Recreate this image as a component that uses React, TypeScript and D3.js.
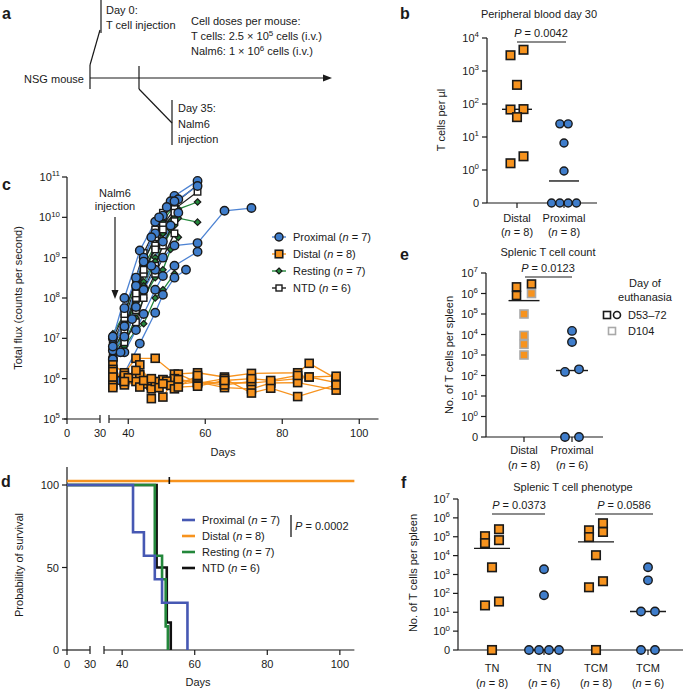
import React from 'react';
import * as d3 from 'd3';

const FONT = '"Liberation Sans", Arial, Helvetica, sans-serif';
const ORANGE = '#F7931E';
const BLUE = '#3F7DCB';
const BLUE_LINE = '#4D83D3';
const GREEN = '#23873B';
const SURV_BLUE = '#4658B3';
const INK = '#1a1a1a';

type Pt = [number, number];

// ---------------- Panel b data ----------------
const bCategories = ['Distal', 'Proximal'];
const bN = [8, 8];
const bDistal = [3000, 4400, 380, 70, 68, 40, 2.6, 1.6];
const bProximal = [25, 25, 6.6, 0.93, 0, 0, 0, 0];
const bPValue = '0.0042';
const bExponents = [0, 1, 2, 3, 4];

// ---------------- Panel c data ----------------
const cProximal: Pt[][] = [
  [[36, 1.0e7], [39, 1.0e8], [43, 1.5e9], [47, 7.8e9], [52, 3.4e10], [58, 8.0e10]],
  [[36, 3.2e6], [39, 5.6e7], [42, 3.2e8], [44, 1.0e9], [47, 4.0e9], [49, 1.1e10], [51, 2.5e10], [53, 2.8e10], [58, 6.0e10]],
  [[36, 5.0e6], [39, 1.1e7], [42, 6.0e7], [44, 1.6e8], [47, 5.0e8], [49, 1.0e9], [52, 2.0e9], [58, 2.3e9], [65, 1.45e10], [72, 1.7e10]],
  [[36, 2.9e6], [39, 4.5e6], [42, 1.6e7], [44, 4.0e7], [47, 1.6e8], [49, 3.5e8], [52, 6.3e8], [58, 1.4e9]],
  [[36, 3.0e6], [38, 9.0e5], [43, 7.4e6], [47, 4.3e7], [49, 1.2e8], [52, 3.2e8], [55, 5.0e8]],
  [[36, 1.1e7], [38, 4.5e6], [41, 3.0e7], [44, 1.6e8], [46, 6.3e8], [49, 2.5e9], [51, 6.3e9], [53, 1.3e10]],
  [[36, 6.3e6], [39, 2.0e7], [42, 2.0e8], [44, 8.0e8], [46, 3.2e9], [48, 1.0e10], [50, 1.8e10], [52, 2.5e10]],
];
const cDistal: Pt[][] = [
  [[36, 2.2e6], [39, 1.4e6], [42, 3.2e6], [47, 3.2e6], [52, 1.3e6], [58, 1.4e6], [65, 1.1e6], [72, 1.35e6], [84, 1.4e6], [87, 2.4e6], [94, 1.0e6]],
  [[36, 1.7e6], [39, 9.5e5], [43, 2.2e6], [46, 7.0e5], [49, 9.3e5], [53, 1.3e6], [58, 8.0e5], [65, 8.0e5], [72, 7.8e5], [84, 1.0e6], [87, 1.1e6], [94, 8.0e5]],
  [[36, 1.25e6], [39, 1.1e6], [43, 1.25e6], [46, 3.2e5], [49, 9.5e5], [52, 7.0e5], [58, 8.3e5], [65, 6.0e5], [72, 5.6e5], [77, 7.8e5], [84, 8.0e5], [94, 5.2e5]],
  [[36, 9.3e5], [39, 8.0e5], [44, 7.4e5], [46, 6.9e5], [49, 3.5e5], [52, 1.0e6], [58, 7.6e5], [65, 1.0e6], [72, 4.4e5], [77, 5.8e5], [84, 3.6e5], [94, 7.0e5]],
  [[36, 7.0e5], [39, 1.2e6], [42, 8.5e5], [46, 5.6e5], [50, 8.7e5], [53, 7.8e5], [58, 1.1e6]],
  [[36, 6.0e5], [40, 1.05e6], [43, 6.2e5], [47, 8.5e5], [51, 6.8e5], [53, 9.5e5], [65, 7.0e5], [72, 8.5e5]],
  [[36, 1.5e6], [39, 7.0e5], [44, 9.0e5], [48, 6.0e5], [52, 5.6e5], [58, 1.2e6]],
  [[36, 1.1e6], [39, 8.5e5], [42, 1.6e6], [46, 1.0e6], [49, 7.5e5], [53, 6.2e5], [58, 6.5e5], [65, 9.0e5], [72, 1.0e6], [77, 9.0e5], [84, 1.2e6], [87, 1.1e6], [94, 1.15e6]],
];
const cResting: Pt[][] = [
  [[36, 8e6], [39, 2.5e7], [42, 1.6e8], [44, 4e8], [47, 1.6e9], [49, 4e9], [51, 8e9], [53, 1.6e10], [58, 2.4e10]],
  [[36, 4e6], [39, 1.3e7], [42, 6.3e7], [44, 2.5e8], [47, 1e9], [49, 2.5e9], [51, 5e9], [53, 9.5e9], [58, 7.6e9]],
  [[36, 6.3e6], [39, 8e6], [42, 3.2e7], [44, 1e8], [47, 3.2e8], [49, 5e8], [51, 1.6e9], [53, 3.2e9]],
  [[36, 2.5e6], [39, 2e7], [42, 1e8], [44, 6.3e8], [47, 2e9], [49, 4e9], [52, 1e10]],
  [[36, 1.3e7], [39, 4e7], [42, 2.5e8], [44, 8e8], [47, 3.2e9], [49, 8e9], [52, 2e10]],
  [[36, 3.2e6], [39, 6.3e6], [42, 1.6e7], [44, 2.3e7], [47, 1e8], [49, 1.6e8], [52, 4e8]],
  [[36, 5e6], [39, 1.6e7], [42, 8e7], [44, 2e8], [47, 8e8], [49, 2e9], [52, 6.3e9], [53, 1.3e10]],
];
const cNTD: Pt[][] = [
  [[36, 8e6], [39, 3.2e7], [42, 2e8], [44, 8e8], [47, 3.2e9], [49, 1e10], [52, 2.2e10], [58, 6.3e10]],
  [[36, 5e6], [39, 1.6e7], [42, 1e8], [44, 4e8], [47, 2e9], [49, 6.3e9], [52, 1.6e10], [58, 4.3e10]],
  [[36, 3.2e6], [39, 1e7], [42, 5e7], [44, 1.6e8], [47, 6.3e8], [49, 2e9], [52, 8e9]],
  [[36, 1e7], [39, 4e7], [42, 3.2e8], [44, 1.3e9], [47, 5e9], [49, 1.3e10], [52, 2.5e10]],
  [[36, 4e6], [39, 8e6], [42, 2.5e7], [44, 1e8], [47, 4e8], [49, 1e9], [52, 4e9]],
  [[36, 6.3e6], [39, 2e7], [42, 1.3e8], [44, 5e8], [47, 1.6e9], [49, 5e9], [52, 1.3e10]],
];
const cXTicks = [0, 30, 40, 60, 80, 100];
const cYExponents = [5, 6, 7, 8, 9, 10, 11];
const cLegend = [
  { name: 'Proximal', n: 7, kind: 'circle' },
  { name: 'Distal', n: 8, kind: 'square' },
  { name: 'Resting', n: 7, kind: 'diamond' },
  { name: 'NTD', n: 6, kind: 'open' },
];

// ---------------- Panel d data ----------------
const dProximalDays = [0, 43, 46, 49, 51, 58];
const dProximalSurv = [100, 71.4, 57.1, 42.9, 28.6, 0];
const dRestingDays = [0, 49, 51, 52, 52.6];
const dRestingSurv = [100, 57.1, 42.9, 14.3, 0];
const dNTDDays = [0, 49.5, 52.3, 53.4];
const dNTDSurv = [100, 50, 16.7, 0];
const dDistalDays = [0, 104];
const dDistalSurv = [100, 100];
const dCensorDay = 53;
const dXTicks = [0, 30, 40, 60, 80, 100];
const dYTicks = [0, 50, 100];
const dLegend = [
  { name: 'Proximal', n: 7 },
  { name: 'Distal', n: 8 },
  { name: 'Resting', n: 7 },
  { name: 'NTD', n: 6 },
];
const dPValue = '0.0002';

// ---------------- Panel e data ----------------
const eCategories = ['Distal', 'Proximal'];
const eN = [8, 6];
const eDistal = [2.1e6, 2.9e6, 8e5, 1e6, 1e5, 9e3, 3.3e3, 1e3];
const eDistalDay = ['D53–72', 'D53–72', 'D53–72', 'D104', 'D104', 'D104', 'D104', 'D104'];
const eProximal = [1.5e4, 4.3e3, 150, 200, 0, 0];
const ePValue = '0.0123';
const eExponents = [0, 1, 2, 3, 4, 5, 6, 7];

// ---------------- Panel f data ----------------
const fCategories = ['TN', 'TN', 'TCM', 'TCM'];
const fN = [8, 6, 8, 6];
const fTNDistal = [1.07e5, 4.6e4, 2.5e5, 6.6e4, 2.4e3, 37, 23, 0];
const fTNProximal = [1.9e3, 80, 0, 0, 0, 0];
const fTCMDistal = [2.2e5, 9.6e4, 5.2e5, 1.8e5, 1.05e4, 440, 210, 0];
const fTCMProximal = [2.4e3, 490, 11, 11, 0, 0];
const fPValues = ['0.0373', '0.0586'];
const fExponents = [0, 1, 2, 3, 4, 5, 6, 7];

// ---------------- helpers ----------------
function logWithZero(maxV: number, zeroPx: number, topPx: number) {
  const s = d3.scaleLog().domain([0.1, maxV]).range([zeroPx, topPx]);
  return (v: number) => (v <= 0 ? zeroPx : s(v));
}

// row-based scatter layout (GraphPad-like): points closer than binH vertically share a row
function rowSwarm(ys: number[], h: number, binH: number): number[] {
  const order = ys.map((_, i) => i).sort((a, b) => ys[a] - ys[b]);
  const rows: number[][] = [];
  for (const i of order) {
    const last = rows[rows.length - 1];
    if (last && ys[i] - ys[last[0]] < binH) last.push(i);
    else rows.push([i]);
  }
  const xs = new Array(ys.length).fill(0);
  rows.forEach((r) => {
    const sorted = [...r].sort((a, b) => ys[b] - ys[a]);
    sorted.forEach((i, k) => (xs[i] = (k - (sorted.length - 1) / 2) * h));
  });
  return xs;
}

const Pow10 = ({ x, y, e, anchor = 'end', size = 11 }: any) => (
  <text x={x} y={y} textAnchor={anchor} fontSize={size} fill={INK}>
    10
    <tspan dy={-size * 0.42} fontSize={size * 0.72}>
      {e}
    </tspan>
  </text>
);

const NText = ({ x, y, n, prefix = '', anchor = 'middle' }: any) => (
  <text x={x} y={y} textAnchor={anchor} fontSize={11} fill={INK}>
    {prefix}(<tspan fontStyle="italic">n</tspan> = {n})
  </text>
);

const PText = ({ x, y, p, anchor = 'middle' }: any) => (
  <text x={x} y={y} textAnchor={anchor} fontSize={11} fill={INK}>
    <tspan fontStyle="italic">P</tspan> = {p}
  </text>
);

function Marker({ kind, cx, cy, s = 8, stroke = INK }: any) {
  if (kind === 'circle')
    return <circle cx={cx} cy={cy} r={s / 2} fill={BLUE} stroke={stroke} strokeWidth={1.4} />;
  if (kind === 'square')
    return <rect x={cx - s / 2} y={cy - s / 2} width={s} height={s} fill={ORANGE} stroke={stroke} strokeWidth={1.6} />;
  if (kind === 'diamond')
    return (
      <path
        d={`M${cx},${cy - s / 2}L${cx + s / 2},${cy}L${cx},${cy + s / 2}L${cx - s / 2},${cy}Z`}
        fill={GREEN}
        stroke={INK}
        strokeWidth={1.2}
      />
    );
  return <rect x={cx - s / 2} y={cy - s / 2} width={s} height={s} fill="#fff" stroke={INK} strokeWidth={1.4} />;
}

function LogYAxis({ x, yScale, exps, zeroPx, tick = 5, gap = 3, size = 11, top }: any) {
  return (
    <g>
      <line x1={x} x2={x} y1={top} y2={zeroPx} stroke={INK} strokeWidth={1.2} />
      {exps.map((e: number) => (
        <g key={e}>
          <line x1={x - tick} x2={x} y1={yScale(10 ** e)} y2={yScale(10 ** e)} stroke={INK} strokeWidth={1.2} />
          <Pow10 x={x - tick - gap} y={yScale(10 ** e) + 4} e={e} size={size} />
        </g>
      ))}
      <line x1={x - tick} x2={x} y1={zeroPx} y2={zeroPx} stroke={INK} strokeWidth={1.2} />
      <text x={x - tick - gap} y={zeroPx + 4} textAnchor="end" fontSize={size} fill={INK}>
        0
      </text>
    </g>
  );
}

function DotGroup({ values, cx, yScale, kind, size, h, binH, strokes }: any) {
  const ys = values.map((v: number) => yScale(v));
  const xs = rowSwarm(ys, h, binH);
  return (
    <g>
      {values.map((v: number, i: number) => (
        <Marker key={i} kind={kind} cx={cx + xs[i]} cy={ys[i]} s={size} stroke={strokes ? strokes[i] : INK} />
      ))}
    </g>
  );
}

function MedianLine({ values, cx, yScale, half }: any) {
  const m = d3.median(values as number[]) as number;
  const y = yScale(m);
  return <line x1={cx - half} x2={cx + half} y1={y} y2={y} stroke={INK} strokeWidth={1.4} />;
}

// ---------------- Panels ----------------
function PanelA() {
  return (
    <g fill={INK} fontSize={11}>
      <text x={2} y={19} fontSize={16} fontWeight="bold">a</text>
      <text x={84} y={83} textAnchor="end">NSG mouse</text>
      <line x1={90} x2={90} y1={65} y2={89} stroke={INK} strokeWidth={1.2} />
      <line x1={90} x2={325} y1={78} y2={78} stroke={INK} strokeWidth={1.2} />
      <path d="M332,78 L323,74.5 L323,81.5 Z" fill={INK} />
      <line x1={90} y1={65} x2={100} y2={30} stroke={INK} strokeWidth={1.2} />
      <line x1={101} x2={101} y1={0} y2={33} stroke={INK} strokeWidth={1.2} />
      <text x={106} y={14}>Day 0:</text>
      <text x={106} y={29}>T cell injection</text>
      <text x={191} y={25}>Cell doses per mouse:</text>
      <text x={191} y={40}>
        T cells: 2.5 × 10<tspan dy={-4} fontSize={8}>5</tspan>
        <tspan dy={4}> cells (i.v.)</tspan>
      </text>
      <text x={191} y={55}>
        Nalm6: 1 × 10<tspan dy={-4} fontSize={8}>6</tspan>
        <tspan dy={4}> cells (i.v.)</tspan>
      </text>
      <line x1={139} x2={139} y1={66} y2={89} stroke={INK} strokeWidth={1.2} />
      <line x1={139} y1={89} x2={172} y2={123} stroke={INK} strokeWidth={1.2} />
      <line x1={172} x2={172} y1={100} y2={145} stroke={INK} strokeWidth={1.2} />
      <text x={178} y={112}>Day 35:</text>
      <text x={178} y={128}>Nalm6</text>
      <text x={178} y={143}>injection</text>
    </g>
  );
}

function PanelB() {
  const yS = logWithZero(1e4, 203, 38);
  const xS = d3.scalePoint<string>().domain(bCategories).range([517, 564]);
  const axisX = 487;
  return (
    <g>
      <text x={400} y={19} fontSize={16} fontWeight="bold" fill={INK}>b</text>
      <text x={539} y={18} textAnchor="middle" fontSize={11} fill={INK}>Peripheral blood day 30</text>
      <text transform="translate(445,120) rotate(-90)" textAnchor="middle" fontSize={11} fill={INK}>T cells per µl</text>
      <LogYAxis x={axisX} yScale={yS} exps={bExponents} zeroPx={203} top={38} />
      <line x1={axisX} x2={597} y1={203} y2={203} stroke={INK} strokeWidth={1.2} />
      {bCategories.map((c, i) => (
        <g key={c}>
          <line x1={xS(c)} x2={xS(c)} y1={203} y2={208} stroke={INK} strokeWidth={1.2} />
          <text x={xS(c)} y={222} textAnchor="middle" fontSize={11} fill={INK}>{c}</text>
          <NText x={xS(c)} y={236} n={bN[i]} />
        </g>
      ))}
      <PText x={541} y={37} p={bPValue} />
      <line x1={517} x2={566} y1={42} y2={42} stroke={INK} strokeWidth={1.2} />
      <MedianLine values={bDistal} cx={xS('Distal')} yScale={yS} half={15} />
      <MedianLine values={bProximal} cx={xS('Proximal')} yScale={yS} half={15} />
      <DotGroup values={bDistal} cx={xS('Distal')} yScale={yS} kind="square" size={8.5} h={13} binH={7} />
      <DotGroup values={bProximal} cx={xS('Proximal')} yScale={yS} kind="circle" size={8} h={8.3} binH={7} />
    </g>
  );
}

function PanelC() {
  const x = d3.scaleLinear().domain([0, 30, 35, 105]).range([67, 100, 109, 378.5]);
  const y = d3.scaleLog().domain([1e5, 1e11]).range([419, 177]);
  const line = d3.line<Pt>().x((d) => x(d[0])).y((d) => y(d[1]));
  const groups = [
    { data: cResting, color: GREEN, kind: 'diamond', size: 6.5 },
    { data: cNTD, color: '#222', kind: 'open', size: 6.5 },
    { data: cProximal, color: BLUE_LINE, kind: 'circle', size: 8.5 },
    { data: cDistal, color: ORANGE, kind: 'square', size: 8 },
  ];
  return (
    <g>
      <text x={2} y={190} fontSize={16} fontWeight="bold" fill={INK}>c</text>
      <text transform="translate(22,298) rotate(-90)" textAnchor="middle" fontSize={11} fill={INK}>
        Total flux (counts per second)
      </text>
      <line x1={67} x2={67} y1={177} y2={419} stroke={INK} strokeWidth={1.2} />
      {cYExponents.map((e) => (
        <g key={e}>
          <line x1={62} x2={67} y1={y(10 ** e)} y2={y(10 ** e)} stroke={INK} strokeWidth={1.2} />
          <Pow10 x={60} y={y(10 ** e) + 4} e={e} />
        </g>
      ))}
      <line x1={64} x2={100} y1={419} y2={419} stroke={INK} strokeWidth={1.2} />
      <line x1={109} x2={x(105)} y1={419} y2={419} stroke={INK} strokeWidth={1.2} />
      <line x1={100} x2={100} y1={415} y2={423} stroke={INK} strokeWidth={1.2} />
      <line x1={109} x2={109} y1={415} y2={423} stroke={INK} strokeWidth={1.2} />
      {cXTicks.map((t) => (
        <g key={t}>
          {t !== 30 && <line x1={x(t)} x2={x(t)} y1={419} y2={424} stroke={INK} strokeWidth={1.2} />}
          <text x={x(t)} y={437} textAnchor="middle" fontSize={11} fill={INK}>{t}</text>
        </g>
      ))}
      <text x={223} y={456} textAnchor="middle" fontSize={11} fill={INK}>Days</text>
      <text x={115} y={197} textAnchor="middle" fontSize={11} fill={INK}>Nalm6</text>
      <text x={115} y={210} textAnchor="middle" fontSize={11} fill={INK}>injection</text>
      <line x1={115} x2={115} y1={217} y2={292} stroke={INK} strokeWidth={1.2} />
      <path d="M115,299 L111.5,290 L118.5,290 Z" fill={INK} />
      {groups.map((g, gi) => (
        <g key={gi}>
          {g.data.map((s, si) => (
            <path key={si} d={line(s) || ''} fill="none" stroke={g.color} strokeWidth={1.3} />
          ))}
        </g>
      ))}
      {groups.map((g, gi) => (
        <g key={gi}>
          {g.data.map((s, si) =>
            s.map((p, pi) => <Marker key={si + '-' + pi} kind={g.kind} cx={x(p[0])} cy={y(p[1])} s={g.size} />)
          )}
        </g>
      ))}
      {cLegend.map((l, i) => {
        const ly = 237 + i * 17;
        const col = [BLUE_LINE, ORANGE, GREEN, '#222'][i];
        return (
          <g key={l.name}>
            <line x1={272} x2={286} y1={ly} y2={ly} stroke={col} strokeWidth={1.4} />
            <Marker kind={l.kind} cx={279} cy={ly} s={l.kind === 'circle' ? 8 : l.kind === 'square' ? 7.5 : 6} />
            <NText x={293} y={ly + 4} n={l.n} prefix={l.name + ' '} anchor="start" />
          </g>
        );
      })}
    </g>
  );
}

function PanelD() {
  const x = d3.scaleLinear().domain([0, 30, 35, 105]).range([67, 90, 104, 358]);
  const y = d3.scaleLinear().domain([0, 100]).range([650, 485]);
  const mk = (days: number[], surv: number[]) =>
    d3.line<number>().x((_, i) => x(days[i])).y((_, i) => y(surv[i])).curve(d3.curveStepAfter)(surv) || '';
  const curves = [
    { days: dNTDDays, surv: dNTDSurv, color: '#111', dy: 0 },
    { days: dRestingDays, surv: dRestingSurv, color: GREEN, dy: 0 },
    { days: dProximalDays, surv: dProximalSurv, color: SURV_BLUE, dy: 0 },
    { days: dDistalDays, surv: dDistalSurv, color: ORANGE, dy: -4 },
  ];
  const legendColors = [SURV_BLUE, ORANGE, GREEN, '#111'];
  return (
    <g>
      <text x={1} y={487} fontSize={16} fontWeight="bold" fill={INK}>d</text>
      <text transform="translate(23,565) rotate(-90)" textAnchor="middle" fontSize={11} fill={INK}>
        Probability of survival
      </text>
      <line x1={67} x2={67} y1={467} y2={650} stroke={INK} strokeWidth={1.2} />
      {dYTicks.map((t) => (
        <g key={t}>
          <line x1={62} x2={67} y1={y(t)} y2={y(t)} stroke={INK} strokeWidth={1.2} />
          <text x={59} y={y(t) + 4} textAnchor="end" fontSize={11} fill={INK}>{t}</text>
        </g>
      ))}
      <line x1={67} x2={90} y1={650} y2={650} stroke={INK} strokeWidth={1.2} />
      <line x1={104} x2={x(104)} y1={650} y2={650} stroke={INK} strokeWidth={1.2} />
      <line x1={90} x2={90} y1={646} y2={654} stroke={INK} strokeWidth={1.2} />
      <line x1={104} x2={104} y1={646} y2={654} stroke={INK} strokeWidth={1.2} />
      {dXTicks.map((t) => (
        <g key={t}>
          {t !== 30 && <line x1={x(t)} x2={x(t)} y1={650} y2={655} stroke={INK} strokeWidth={1.2} />}
          <text x={x(t)} y={668} textAnchor="middle" fontSize={11} fill={INK}>{t}</text>
        </g>
      ))}
      <text x={198} y={686} textAnchor="middle" fontSize={11} fill={INK}>Days</text>
      {curves.map((c, i) => (
        <path key={i} d={mk(c.days, c.surv)} transform={`translate(0,${c.dy})`} fill="none" stroke={c.color} strokeWidth={2.6} />
      ))}
      <line x1={x(dCensorDay)} x2={x(dCensorDay)} y1={477} y2={484} stroke="#111" strokeWidth={1.6} />
      {dLegend.map((l, i) => {
        const ly = 520 + i * 16;
        return (
          <g key={l.name}>
            <line x1={182} x2={195} y1={ly} y2={ly} stroke={legendColors[i]} strokeWidth={2.6} />
            <NText x={202} y={ly + 4} n={l.n} prefix={l.name + ' '} anchor="start" />
          </g>
        );
      })}
      <line x1={291} x2={291} y1={515} y2={537} stroke={INK} strokeWidth={1.3} />
      <PText x={295} y={530} p={dPValue} anchor="start" />
    </g>
  );
}

function PanelE() {
  const yS = logWithZero(1e7, 437, 273);
  const xS = d3.scalePoint<string>().domain(eCategories).range([524, 572]);
  const axisX = 486;
  const strokes = eDistalDay.map((d) => (d === 'D104' ? '#a9a9a9' : INK));
  return (
    <g>
      <text x={400} y={260} fontSize={16} fontWeight="bold" fill={INK}>e</text>
      <text x={548} y={256} textAnchor="middle" fontSize={11} fill={INK}>Splenic T cell count</text>
      <text transform="translate(453,355) rotate(-90)" textAnchor="middle" fontSize={11} fill={INK}>
        No. of T cells per spleen
      </text>
      <LogYAxis x={axisX} yScale={yS} exps={eExponents} zeroPx={437} top={273} />
      <line x1={axisX} x2={603} y1={437} y2={437} stroke={INK} strokeWidth={1.2} />
      {eCategories.map((c, i) => (
        <g key={c}>
          <line x1={xS(c)} x2={xS(c)} y1={437} y2={442} stroke={INK} strokeWidth={1.2} />
          <text x={xS(c)} y={454} textAnchor="middle" fontSize={11} fill={INK}>{c}</text>
          <NText x={xS(c)} y={469} n={eN[i]} />
        </g>
      ))}
      <PText x={548} y={272} p={ePValue} />
      <line x1={525} x2={572} y1={277} y2={277} stroke={INK} strokeWidth={1.2} />
      <MedianLine values={eDistal} cx={xS('Distal')} yScale={yS} half={15.5} />
      <MedianLine values={eProximal} cx={xS('Proximal')} yScale={yS} half={16} />
      <DotGroup values={eDistal} cx={xS('Distal')} yScale={yS} kind="square" size={8} h={15} binH={7} strokes={strokes} />
      <DotGroup values={eProximal} cx={xS('Proximal')} yScale={yS} kind="circle" size={8.5} h={14} binH={7} />
      <text x={645} y={287} textAnchor="middle" fontSize={11} fill={INK}>Day of</text>
      <text x={645} y={301} textAnchor="middle" fontSize={11} fill={INK}>euthanasia</text>
      <rect x={603.5} y={311.5} width={7} height={7} fill="#fff" stroke={INK} strokeWidth={1.6} />
      <circle cx={617} cy={315} r={3.5} fill="#fff" stroke={INK} strokeWidth={1.6} />
      <text x={628} y={319} fontSize={11} fill={INK}>D53–72</text>
      <rect x={608.5} y={327.5} width={7} height={7} fill="#fff" stroke="#a9a9a9" strokeWidth={1.6} />
      <text x={628} y={335} fontSize={11} fill={INK}>D104</text>
    </g>
  );
}

function PanelF() {
  const yS = logWithZero(1e7, 650, 499);
  const keys = ['0', '1', '2', '3'];
  const xS = d3.scalePoint<string>().domain(keys).range([492, 648]);
  const axisX = 458;
  const groups = [
    { v: fTNDistal, kind: 'square', h: 14 },
    { v: fTNProximal, kind: 'circle', h: 10 },
    { v: fTCMDistal, kind: 'square', h: 14 },
    { v: fTCMProximal, kind: 'circle', h: 14 },
  ];
  return (
    <g>
      <text x={401} y={488} fontSize={16} fontWeight="bold" fill={INK}>f</text>
      <text x={573} y={491} textAnchor="middle" fontSize={11} fill={INK}>Splenic T cell phenotype</text>
      <text transform="translate(417,573) rotate(-90)" textAnchor="middle" fontSize={11} fill={INK}>
        No. of T cells per spleen
      </text>
      <LogYAxis x={axisX} yScale={yS} exps={fExponents} zeroPx={650} top={499} />
      <line x1={axisX} x2={683} y1={650} y2={650} stroke={INK} strokeWidth={1.2} />
      {fCategories.map((c, i) => (
        <g key={i}>
          <line x1={xS(keys[i])} x2={xS(keys[i])} y1={650} y2={655} stroke={INK} strokeWidth={1.2} />
          <text x={xS(keys[i])} y={672} textAnchor="middle" fontSize={11} fill={INK}>{c}</text>
          <NText x={xS(keys[i])} y={687} n={fN[i]} />
        </g>
      ))}
      <PText x={519} y={509} p={fPValues[0]} />
      <line x1={492} x2={545} y1={514} y2={514} stroke={INK} strokeWidth={1.2} />
      <PText x={624} y={509} p={fPValues[1]} />
      <line x1={595} x2={653} y1={514} y2={514} stroke={INK} strokeWidth={1.2} />
      {groups.map((g, i) => (
        <MedianLine key={'m' + i} values={g.v} cx={xS(keys[i])} yScale={yS} half={18} />
      ))}
      {groups.map((g, i) => (
        <DotGroup key={'d' + i} values={g.v} cx={xS(keys[i])} yScale={yS} kind={g.kind} size={8.5} h={g.h} binH={7.5} />
      ))}
    </g>
  );
}

export default function App() {
  return (
    <svg
      width={685}
      height={689}
      viewBox="0 0 685 689"
      style={{ position: 'absolute', left: 0, top: 0, background: '#fff' }}
      fontFamily={FONT}
    >
      <rect width={685} height={689} fill="#fff" />
      <PanelA />
      <PanelB />
      <PanelC />
      <PanelD />
      <PanelE />
      <PanelF />
    </svg>
  );
}
